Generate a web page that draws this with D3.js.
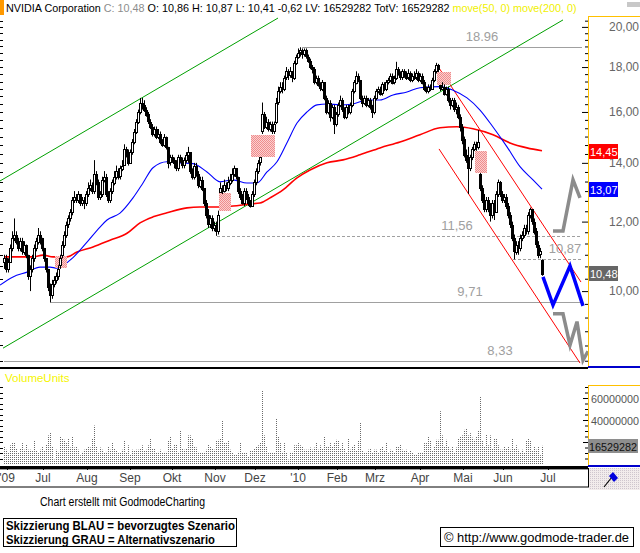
<!DOCTYPE html>
<html>
<head>
<meta charset="utf-8">
<script src="https://cdn.jsdelivr.net/npm/d3@7"></script>
<style>
  body { margin: 0; background: #fff; }
  svg { display: block; font-family: "Liberation Sans", Arial, sans-serif; }
</style>
</head>
<body>
<div id="chart"></div>
<script>
const width = 640;
const height = 553;

// Daily bars, first bar sits on trading day 2 (day 0 = 1 June 2009)
const firstDay = 2;

const closes = [
  10.9, 10.6, 10.8, 11.2, 11.5, 11.6, 11.4, 11.2, 11.4, 11.1,
  11.3, 11.0, 10.4, 10.6, 10.9, 11.2, 11.4, 11.6, 11.5, 11.2,
  10.9, 10.6, 10.1, 9.9, 10.2, 10.3, 10.4, 10.6, 10.9, 11.3,
  11.6, 11.9, 12.1, 12.3, 12.7, 12.8, 12.7, 12.9, 12.6, 12.7,
  12.6, 12.9, 13.1, 13.2, 13.0, 13.6, 13.3, 12.8, 12.9, 13.4,
  13.5, 12.9, 12.7, 13.0, 13.3, 13.5, 13.7, 13.5, 13.8, 13.9,
  14.5, 14.4, 14.0, 14.4, 14.8, 15.2, 15.6, 16.0, 16.4, 16.3,
  16.1, 15.9, 15.6, 15.4, 15.1, 15.3, 15.0, 15.1, 14.8, 14.7,
  15.0, 14.6, 14.0, 14.2, 14.1, 14.0, 13.8, 14.2, 14.1, 13.9,
  14.1, 14.3, 14.4, 13.7, 13.5, 13.9, 13.6, 13.2, 13.4, 13.1,
  12.6, 12.2, 11.9, 12.1, 11.8, 11.9, 11.7, 12.2, 13.1, 13.0,
  13.2, 13.1, 13.3, 13.4, 13.6, 13.8, 13.5, 13.0, 12.8, 12.6,
  13.0, 12.8, 12.6, 12.5, 12.9, 13.3, 13.7, 14.0, 14.2, 15.9,
  15.4, 15.6, 15.3, 15.5, 15.2, 15.5, 16.4, 16.9, 17.1, 17.0,
  17.5, 17.8, 17.6, 17.8, 17.5, 18.2, 18.5, 18.7, 18.8, 18.6,
  18.8, 18.5, 18.3, 18.0, 17.9, 17.3, 17.5, 17.2, 17.0, 17.3,
  16.6, 16.0, 16.4, 15.8, 16.2, 15.5, 15.9, 16.3, 16.5, 16.1,
  15.8, 16.2, 16.0, 16.3, 16.9, 17.3, 17.6, 17.4, 16.6, 16.4,
  16.6, 16.3, 16.5, 16.2, 16.0, 16.6, 16.9, 17.0, 16.8, 17.2,
  17.0, 17.3, 17.4, 17.6, 17.3, 17.5, 17.9, 17.7, 17.5, 17.8,
  17.6, 17.5, 17.7, 17.4, 17.6, 17.5, 17.7, 17.4, 17.6, 17.3,
  17.0, 16.9, 17.1, 17.0, 17.4, 17.8, 18.1, 17.9, 17.0, 17.1,
  16.8, 17.0, 16.5, 16.3, 16.5, 16.1, 16.2, 15.8, 15.4, 14.9,
  14.3, 14.1, 13.8, 14.2, 14.5, 14.7, 14.6, 14.8, 13.1, 12.7,
  12.4, 12.7, 12.5, 12.2, 12.6, 12.3, 12.9, 13.3, 12.9, 12.7,
  12.8, 12.5, 12.2, 11.9, 11.5, 11.1, 11.3, 11.2, 11.5, 11.6,
  11.8, 11.7, 12.2, 12.4, 12.0, 11.7, 11.3, 11.0, 11.1, 10.48
];

const opens = [
  10.8, 10.9, 10.6, 10.8, 11.2, 11.5, 11.6, 11.4, 11.2, 11.4,
  11.1, 11.3, 11.0, 10.4, 10.6, 10.9, 11.2, 11.4, 11.6, 11.5,
  11.2, 10.9, 10.6, 10.1, 9.9, 10.2, 10.3, 10.4, 10.7, 11.0,
  11.3, 11.6, 11.9, 12.1, 12.3, 12.7, 12.8, 12.7, 12.9, 12.6,
  12.7, 12.6, 12.9, 13.1, 13.2, 13.0, 13.6, 13.3, 12.8, 12.9,
  13.4, 13.5, 12.9, 12.7, 13.0, 13.3, 13.5, 13.7, 13.5, 13.8,
  13.9, 14.5, 14.4, 14.0, 14.4, 14.8, 15.2, 15.6, 16.0, 16.4,
  16.3, 16.1, 15.9, 15.6, 15.4, 15.1, 15.3, 15.0, 15.1, 14.8,
  14.7, 15.0, 14.6, 14.0, 14.2, 14.1, 14.0, 13.8, 14.2, 14.1,
  13.9, 14.1, 14.3, 14.4, 13.7, 13.5, 13.9, 13.6, 13.2, 13.4,
  13.1, 12.6, 12.2, 11.9, 12.1, 11.8, 11.9, 11.7, 12.95, 13.1,
  13.0, 13.2, 13.1, 13.3, 13.4, 13.6, 13.8, 13.5, 13.0, 12.8,
  12.6, 13.0, 12.8, 12.6, 12.5, 12.9, 13.3, 13.7, 14.0, 15.2,
  15.9, 15.4, 15.6, 15.3, 15.5, 15.2, 15.6, 16.4, 16.9, 17.1,
  17.0, 17.5, 17.8, 17.6, 17.8, 17.5, 18.2, 18.5, 18.7, 18.8,
  18.6, 18.8, 18.5, 18.3, 18.0, 17.9, 17.3, 17.5, 17.2, 17.0,
  17.3, 16.6, 16.0, 16.4, 15.8, 16.2, 15.5, 15.9, 16.3, 16.5,
  16.1, 15.8, 16.2, 16.0, 16.3, 16.9, 17.3, 17.6, 17.4, 16.6,
  16.4, 16.6, 16.3, 16.5, 16.2, 16.0, 16.6, 16.9, 17.0, 16.8,
  17.2, 17.0, 17.3, 17.4, 17.6, 17.3, 17.5, 17.9, 17.7, 17.5,
  17.8, 17.6, 17.5, 17.7, 17.4, 17.6, 17.5, 17.7, 17.4, 17.6,
  17.3, 17.0, 16.9, 17.1, 17.0, 17.4, 17.8, 18.1, 17.15, 17.0,
  17.1, 16.8, 17.0, 16.5, 16.3, 16.5, 16.1, 16.2, 15.8, 15.4,
  14.9, 14.3, 14.1, 13.8, 14.2, 14.5, 14.7, 14.6, 13.6, 13.1,
  12.7, 12.4, 12.7, 12.5, 12.2, 12.6, 12.3, 12.9, 13.3, 12.9,
  12.7, 12.8, 12.5, 12.2, 11.9, 11.5, 11.1, 11.3, 11.2, 11.5,
  11.6, 11.8, 11.7, 12.2, 12.4, 12.0, 11.7, 11.3, 11.0, 10.86
];

const highs = [
  11.0, 11.0, 10.9, 11.3, 11.7, 12.1, 11.7, 11.5, 11.5, 11.5,
  11.4, 11.3, 11.0, 10.7, 11.0, 11.3, 11.5, 11.8, 11.7, 11.5,
  11.2, 10.9, 10.6, 10.2, 10.3, 10.4, 10.5, 10.7, 11.0, 11.4,
  11.7, 12.0, 12.2, 12.4, 12.8, 13.0, 12.9, 13.0, 12.9, 12.8,
  12.8, 13.0, 13.3, 13.4, 13.3, 14.1, 13.7, 13.4, 13.0, 13.5,
  13.7, 13.6, 13.0, 13.1, 13.4, 13.7, 13.9, 13.8, 13.9, 14.1,
  14.7, 14.6, 14.5, 14.5, 14.9, 15.3, 15.7, 16.1, 16.6, 16.6,
  16.5, 16.2, 16.0, 15.7, 15.5, 15.4, 15.4, 15.3, 15.2, 14.9,
  15.1, 15.0, 14.6, 14.3, 14.3, 14.2, 14.1, 14.3, 14.3, 14.2,
  14.2, 14.4, 14.6, 14.4, 13.8, 14.0, 14.0, 13.7, 13.5, 13.5,
  13.1, 12.7, 12.4, 12.2, 12.2, 12.0, 12.0, 12.35, 13.3, 13.2,
  13.4, 13.3, 13.5, 13.6, 13.8, 13.9, 13.8, 13.5, 13.1, 12.9,
  13.1, 13.1, 12.9, 12.7, 13.0, 13.4, 13.8, 14.1, 14.2, 16.4,
  16.0, 15.8, 15.7, 15.6, 15.6, 15.6, 16.6, 17.1, 17.3, 17.3,
  17.6, 18.0, 17.9, 18.0, 17.8, 18.3, 18.6, 18.9, 18.96, 18.9,
  18.9, 18.9, 18.6, 18.4, 18.1, 18.0, 17.6, 17.6, 17.3, 17.4,
  17.3, 16.7, 16.5, 16.5, 16.3, 16.3, 16.0, 16.4, 16.7, 16.6,
  16.2, 16.3, 16.3, 16.4, 17.0, 17.4, 17.8, 17.7, 17.4, 16.7,
  16.7, 16.7, 16.6, 16.6, 16.3, 16.7, 17.0, 17.1, 17.1, 17.3,
  17.3, 17.4, 17.5, 17.7, 17.7, 17.6, 18.25, 18.0, 17.8, 17.9,
  17.9, 17.8, 17.9, 17.8, 17.7, 17.8, 17.9, 17.8, 17.7, 17.7,
  17.4, 17.1, 17.2, 17.2, 17.5, 17.9, 18.2, 18.15, 17.17, 17.3,
  17.2, 17.1, 17.1, 16.6, 16.6, 16.6, 16.4, 16.3, 15.9, 15.5,
  15.0, 14.5, 14.6, 14.3, 14.6, 14.8, 14.8, 15.26, 13.63, 13.2,
  12.9, 12.8, 12.8, 12.6, 12.7, 12.7, 13.0, 13.4, 13.35, 13.0,
  12.9, 12.9, 12.6, 12.3, 12.0, 11.6, 11.4, 11.4, 11.6, 11.7,
  11.9, 11.9, 12.3, 12.45, 12.4, 12.1, 11.8, 11.4, 11.2, 10.87
];

const lows = [
  10.6, 10.5, 10.5, 10.8, 11.1, 11.4, 11.3, 11.1, 11.1, 11.0,
  11.0, 10.9, 10.3, 10.0, 10.5, 10.8, 11.1, 11.3, 11.3, 11.1,
  10.8, 10.5, 10.0, 9.71, 9.8, 10.1, 10.2, 10.3, 10.6, 10.9,
  11.2, 11.5, 11.8, 12.0, 12.2, 12.6, 12.6, 12.6, 12.5, 12.5,
  12.4, 12.5, 12.8, 13.0, 12.9, 12.9, 13.2, 12.7, 12.7, 12.8,
  13.3, 12.8, 12.6, 12.6, 12.9, 13.2, 13.4, 13.4, 13.4, 13.7,
  13.9, 14.2, 13.9, 14.0, 14.3, 14.7, 15.1, 15.5, 15.9, 16.1,
  16.0, 15.8, 15.5, 15.3, 15.0, 15.0, 14.9, 14.9, 14.7, 14.6,
  14.6, 14.5, 13.8, 13.9, 14.0, 13.8, 13.7, 13.7, 14.0, 13.8,
  13.8, 14.0, 14.0, 13.6, 13.4, 13.4, 13.5, 13.1, 13.1, 13.0,
  12.5, 12.1, 11.8, 11.8, 11.7, 11.7, 11.56, 11.6, 12.95, 12.9,
  12.95, 13.0, 13.0, 13.2, 13.3, 13.5, 13.4, 12.9, 12.7, 12.55,
  12.5, 12.7, 12.5, 12.45, 12.5, 12.8, 13.2, 13.6, 13.9, 15.1,
  15.3, 15.3, 15.2, 15.2, 15.1, 15.1, 15.5, 16.3, 16.8, 16.8,
  16.9, 17.4, 17.4, 17.5, 17.3, 17.4, 18.1, 18.4, 18.5, 18.4,
  18.5, 18.4, 18.2, 17.9, 17.7, 17.2, 17.2, 17.1, 16.9, 16.9,
  16.5, 15.9, 15.9, 15.6, 15.7, 15.1, 15.4, 15.8, 16.2, 16.0,
  15.7, 15.7, 15.9, 15.9, 16.2, 16.8, 17.2, 17.3, 16.5, 16.2,
  16.3, 16.2, 16.2, 16.1, 15.75, 15.9, 16.5, 16.8, 16.7, 16.7,
  16.9, 16.9, 17.2, 17.3, 17.2, 17.2, 17.4, 17.6, 17.4, 17.4,
  17.5, 17.4, 17.4, 17.3, 17.3, 17.4, 17.4, 17.3, 17.3, 17.2,
  16.9, 16.8, 16.8, 16.9, 17.0, 17.3, 17.7, 17.77, 16.9, 17.0,
  16.7, 16.7, 16.4, 16.1, 16.2, 16.0, 15.9, 15.7, 15.2, 14.7,
  14.2, 14.0, 12.9, 13.7, 14.1, 14.44, 14.45, 14.5, 13.0, 12.6,
  12.3, 12.3, 12.3, 12.0, 12.1, 12.05, 12.3, 12.8, 12.8, 12.6,
  12.6, 12.4, 12.1, 11.8, 11.4, 10.87, 11.0, 11.0, 11.1, 11.4,
  11.5, 11.6, 11.6, 12.1, 11.9, 11.6, 11.2, 10.9, 10.9, 10.41
];

// Volume in millions of shares
const volumes = [
  16, 13, 10, 17, 20, 20, 14, 10, 14, 19,
  13, 18, 13, 13, 12, 21, 12, 10, 13, 16,
  12, 18, 26, 29, 16, 4, 13, 11, 25, 23,
  22, 19, 23, 15, 25, 15, 16, 13, 8, 11,
  13, 14, 16, 15, 23, 35, 16, 11, 15, 13,
  10, 11, 16, 13, 20, 14, 12, 10, 10, 13,
  21, 10, 17, 9, 13, 12, 13, 13, 14, 17,
  12, 13, 17, 23, 14, 14, 10, 11, 13, 10,
  11, 11, 21, 25, 14, 18, 18, 11, 30, 14,
  13, 14, 26, 26, 23, 16, 15, 11, 10, 10,
  11, 13, 18, 16, 14, 13, 21, 22, 23, 40,
  20, 19, 21, 13, 10, 9, 9, 11, 20, 10,
  10, 10, 7, 12, 12, 14, 16, 17, 20, 67,
  26, 16, 10, 10, 10, 10, 41, 25, 19, 11,
  19, 10, 4, 11, 11, 17, 17, 19, 17, 16,
  13, 13, 13, 15, 13, 15, 20, 13,
  17, 14, 25, 16, 16, 19, 16, 19, 22, 21,
  14, 19, 14, 10, 23, 13, 16, 18, 12, 21,
  38, 12, 11, 11, 13, 14, 10, 13, 13, 10,
  14, 16, 12, 20, 10, 13, 12, 10, 16, 16,
  18, 13, 12, 13, 10, 12, 10, 9, 9, 10,
  10, 10, 19, 19, 25, 21, 12, 16, 22, 22,
  48, 26, 16, 22, 16, 13, 16, 11, 15, 23,
  25, 26, 31, 32, 26, 28, 24, 22, 25, 30,
  61, 21, 16, 27, 17, 26, 14, 23, 23, 17,
  13, 13, 16, 14, 16, 13, 23, 14, 17, 13,
  10, 13, 10, 21, 23, 21, 12, 16, 13, 16,
  8, 16.53
];

// Moving averages: [day, price]
const ma50 = [
  [0, 10.16], [6.5, 10.38], [13.5, 10.51], [20, 10.65], [25, 10.65], [28.5, 10.62],
  [31.5, 10.7], [36.5, 10.92], [43.5, 11.37], [50, 11.83], [53.5, 12.05], [60, 12.27],
  [66.5, 12.77], [71.5, 13.28], [76.5, 13.82], [83.5, 14.04], [90, 14.0], [96.5, 13.97],
  [103.5, 13.67], [110, 13.32], [116.5, 13.39], [123.5, 13.28], [128.5, 13.28],
  [133.5, 13.67], [138.5, 14.04], [143.5, 14.76], [148.5, 15.54], [153.5, 16.0],
  [158.5, 16.3], [163.5, 16.34], [170, 16.3], [176.5, 16.34], [183.5, 16.51],
  [190, 16.51], [196.5, 16.73], [203.5, 16.86], [210, 17.05], [220, 17.1],
  [226.5, 16.94], [233.5, 16.6], [240, 16.08], [246.5, 15.38], [253.5, 14.6],
  [260, 13.86], [266.5, 13.39], [271, 13.07]
];

const ma200 = [
  [2, 10.94], [16.5, 10.94], [21.5, 10.99], [26.5, 10.94], [33.5, 10.94], [38.5, 11.08],
  [46.5, 11.23], [55, 11.43], [63.5, 11.64], [70, 11.96], [76.5, 12.15], [83.5, 12.28],
  [93.5, 12.44], [100, 12.47], [110, 12.47], [116.5, 12.5], [125, 12.57], [130, 12.6],
  [135, 12.77], [141.5, 13.04], [148.5, 13.46], [155, 13.74], [163.5, 14.0],
  [171.5, 14.11], [180, 14.3], [190, 14.56], [200, 14.79], [210, 15.07], [220, 15.35],
  [228.5, 15.39], [236.5, 15.31], [246.5, 15.07], [255, 14.75], [263.5, 14.56],
  [271, 14.45]
];

const lastValues = [
  { value: 14.45, text: '14,45', color: '#ff0000' },
  { value: 13.07, text: '13,07', color: '#0000ff' },
  { value: 10.48, text: '10,48', color: '#666666' }
];

// Trend channels: [[day, price], [day, price]]
const greenChannel = [
  [[1.5, 8.61], [281.5, 20.37]],
  [[0, 13.35], [139, 20.47]]
];
const redChannel = [
  [[218.5, 18.1], [290.5, 10.24]],
  [[219.5, 14.52], [290, 8.28]]
];

// Horizontal support / resistance marks
const levels = [
  { value: 18.96, text: '18.96', from: 151, to: 291, labelDay: 241, dashed: false },
  { value: 11.56, text: '11,56', from: 108.5, to: 291, labelDay: 228.5, dashed: true },
  { value: 10.87, text: '10,87', from: 256.5, to: 291, labelDay: 282.5, dashed: true },
  { value: 9.71, text: '9,71', from: 25, to: 291, labelDay: 235, dashed: false },
  { value: 8.33, text: '8,33', from: 2, to: 290, labelDay: 250, dashed: false }
];

// Price gaps (pink boxes)
const gaps = [
  { from: 27.5, to: 33.5, lo: 10.62, hi: 10.96 },
  { from: 109.5, to: 115.5, lo: 12.34, hi: 12.94 },
  { from: 125.5, to: 137.5, lo: 14.22, hi: 15.06 },
  { from: 218.5, to: 225.5, lo: 17.17, hi: 17.77 },
  { from: 237.5, to: 243.5, lo: 13.63, hi: 14.44 }
];

// Scenario sketches
const blueScenario = [[271.5, 10.38], [276.5, 9.64], [285, 10.68], [291.5, 9.62]];
const grayScenarioUp = [[276.5, 11.71], [281.5, 11.71], [286.5, 13.39], [290, 12.77]];
const grayScenarioDown = [[276.5, 9.42], [281.5, 9.42], [285, 8.68], [288.5, 9.23], [291.5, 8.34], [294, 8.54]];

const months = [
  { label: "'09", day: 3.5 }, { label: 'Jul', day: 21.5 }, { label: 'Aug', day: 43.5 },
  { label: 'Sep', day: 65 }, { label: 'Okt', day: 86 }, { label: 'Nov', day: 107.5 },
  { label: 'Dez', day: 127.5 }, { label: "'10", day: 149 }, { label: 'Feb', day: 168.5 },
  { label: 'Mrz', day: 187.5 }, { label: 'Apr', day: 210 }, { label: 'Mai', day: 231.5 },
  { label: 'Jun', day: 251.5 }, { label: 'Jul', day: 274 }
];

const priceTicks = [10, 12, 14, 16, 18, 20];
const priceTickLabels = ['10,00', '12,00', '14,00', '16,00', '18,00', '20,00'];
const priceMinorTicks = [
  8.33, 8.67, 9, 9.33, 9.67, 10.33, 10.67, 11, 11.33, 11.67,
  12.33, 12.67, 13, 13.33, 13.67, 14.33, 14.67, 15, 15.33, 15.67,
  16.33, 16.67, 17, 17.33, 17.67, 18.33, 18.67, 19, 19.33, 19.67, 20.33
];
const volumeTicks = [20, 40, 60];
const volumeTickLabels = ['20000000', '40000000', '60000000'];
const volumeMinorTicks = [5, 10, 15, 25, 30, 35, 45, 50, 55, 65, 70];

const headerParts = [
  { text: 'NVIDIA Corporation', color: '#000' },
  { text: 'C: 10,48', color: '#8c8c8c' },
  { text: 'O: 10,86', color: '#000' },
  { text: 'H: 10,87', color: '#000' },
  { text: 'L: 10,41', color: '#000' },
  { text: '-0,62', color: '#000' },
  { text: 'LV: 16529282', color: '#000' },
  { text: 'TotV: 16529282', color: '#000' },
  { text: 'move(50, 0)', color: '#f0f000' },
  { text: 'move(200, 0)', color: '#f0f000' }
];

// ---------------------------------------------------------------------------

const x = d3.scaleLinear().domain([0, 294]).range([0, 588]);
const y = d3.scaleLog().domain([10, 20]).range([291.1, 26.9]);
const yVol = d3.scaleLinear().domain([0, 60]).range([464, 398]);

const px = v => Math.round(v) + 0.5;

const svg = d3.select('#chart').append('svg')
    .attr('width', width)
    .attr('height', height)
    .attr('viewBox', `0 0 ${width} ${height}`);

const defs = svg.append('defs');
defs.append('clipPath').attr('id', 'mainClip')
  .append('rect').attr('x', 0).attr('y', 15).attr('width', 590).attr('height', 352);
// only the upper edge of the 20000000 label peeks out above the last-volume box
defs.append('clipPath').attr('id', 'volLabelClip')
  .append('rect').attr('x', 588).attr('y', 386).attr('width', 52).attr('height', 52);

const gapPattern = defs.append('pattern')
    .attr('id', 'gapFill')
    .attr('width', 2).attr('height', 2)
    .attr('patternUnits', 'userSpaceOnUse');
gapPattern.append('rect').attr('width', 2).attr('height', 2).attr('fill', '#fbd0d0');
gapPattern.append('rect').attr('width', 1).attr('height', 1).attr('fill', '#ef8c8c');
gapPattern.append('rect').attr('x', 1).attr('y', 1).attr('width', 1).attr('height', 1).attr('fill', '#ef8c8c');

const cornerPattern = defs.append('pattern')
    .attr('id', 'cornerFill')
    .attr('width', 2).attr('height', 2)
    .attr('patternUnits', 'userSpaceOnUse');
cornerPattern.append('rect').attr('width', 2).attr('height', 2).attr('fill', '#f2ecec');
cornerPattern.append('rect').attr('width', 1).attr('height', 1).attr('fill', '#cfc6ce');

svg.append('rect').attr('width', width).attr('height', height).attr('fill', '#fff');

// ---- header ----
svg.append('rect').attr('x', 0).attr('y', 0).attr('width', 4).attr('height', 15).attr('fill', '#ff9900');
svg.append('rect').attr('x', 627).attr('y', 2).attr('width', 13).attr('height', 5).attr('fill', '#c8c8c8');

// lay the header pieces out one after the other, then fit them to x 6..577
const headerG = svg.append('g');
const headerTexts = headerG.selectAll('text').data(headerParts).join('text')
    .attr('y', 12)
    .attr('font-size', 11)
    .attr('fill', d => d.color)
    .text(d => d.text);
const gapW = 3;
let natural = 0;
headerTexts.each(function () { natural += this.getComputedTextLength() + gapW; });
natural -= gapW;
const fit = 571 / natural;
headerTexts.attr('font-size', 11 * fit);
let cursor = 6;
headerTexts.each(function () {
  d3.select(this).attr('x', cursor);
  cursor += this.getComputedTextLength() + gapW * fit;
});

// ---- main price panel ----
const main = svg.append('g').attr('clip-path', 'url(#mainClip)');

const line = d3.line().x(d => x(d[0])).y(d => y(d[1]));
const smooth = d3.line().x(d => x(d[0])).y(d => y(d[1])).curve(d3.curveMonotoneX);

main.selectAll('line.level').data(levels).join('line')
    .attr('class', 'level')
    .attr('x1', d => x(d.from)).attr('x2', d => x(d.to))
    .attr('y1', d => px(y(d.value))).attr('y2', d => px(y(d.value)))
    .attr('stroke', '#a0a0a0')
    .attr('stroke-dasharray', d => d.dashed ? '3,2' : null);

main.selectAll('path.green').data(greenChannel).join('path')
    .attr('class', 'green')
    .attr('d', line)
    .attr('fill', 'none')
    .attr('stroke', '#00a000');

main.selectAll('path.redch').data(redChannel).join('path')
    .attr('class', 'redch')
    .attr('d', line)
    .attr('fill', 'none')
    .attr('stroke', '#ff0000');

main.append('path')
    .attr('d', smooth(ma200))
    .attr('fill', 'none')
    .attr('stroke', '#ff0000')
    .attr('stroke-width', 1.6);

main.append('path')
    .attr('d', smooth(ma50))
    .attr('fill', 'none')
    .attr('stroke', '#0000ff')
    .attr('stroke-width', 1.1);

main.selectAll('rect.gap').data(gaps).join('rect')
    .attr('class', 'gap')
    .attr('x', d => Math.round(x(d.from)))
    .attr('width', d => Math.round(x(d.to) - x(d.from)))
    .attr('y', d => Math.round(y(d.hi)))
    .attr('height', d => Math.round(y(d.lo) - y(d.hi)))
    .attr('fill', 'url(#gapFill)');

const bars = closes.map((c, k) => ({
  day: firstDay + k, o: opens[k], h: highs[k], l: lows[k], c: c
}));

main.selectAll('line.wick').data(bars).join('line')
    .attr('class', 'wick')
    .attr('x1', d => px(x(d.day))).attr('x2', d => px(x(d.day)))
    .attr('y1', d => y(d.h)).attr('y2', d => y(d.l))
    .attr('stroke', '#000');

main.selectAll('rect.body').data(bars).join('rect')
    .attr('class', 'body')
    .attr('x', d => px(x(d.day)) - 1)
    .attr('width', 2)
    .attr('y', d => Math.round(y(Math.max(d.o, d.c))) + 0.5)
    .attr('height', d => Math.max(1, Math.round(y(Math.min(d.o, d.c)) - y(Math.max(d.o, d.c)))))
    .attr('fill', d => d.c >= d.o ? '#fff' : '#000')
    .attr('stroke', '#000');

main.selectAll('text.level').data(levels).join('text')
    .attr('class', 'level')
    .attr('x', d => x(d.labelDay))
    .attr('y', d => y(d.value) - 6)
    .attr('text-anchor', 'middle')
    .attr('font-size', 13)
    .attr('fill', '#a0a0a0')
    .text(d => d.text);

main.append('path')
    .attr('d', line(grayScenarioUp))
    .attr('fill', 'none').attr('stroke', '#8c8c8c').attr('stroke-width', 3.5);
main.append('path')
    .attr('d', line(grayScenarioDown))
    .attr('fill', 'none').attr('stroke', '#8c8c8c').attr('stroke-width', 3.5);
main.append('path')
    .attr('d', line(blueScenario))
    .attr('fill', 'none').attr('stroke', '#0000ff').attr('stroke-width', 3.5);

// left ticks of the price panel
svg.selectAll('line.lt').data(priceTicks.concat(priceMinorTicks)).join('line')
    .attr('class', 'lt')
    .attr('x1', 0).attr('x2', 3)
    .attr('y1', d => px(y(d))).attr('y2', d => px(y(d)))
    .attr('stroke', '#000');

// ---- right price axis panel ----
const axisPanel = svg.append('g');
axisPanel.append('rect').attr('x', 589).attr('y', 17).attr('width', 51).attr('height', 349).attr('fill', '#fff');
axisPanel.append('line').attr('x1', 588.5).attr('x2', 588.5).attr('y1', 16).attr('y2', 367).attr('stroke', '#ffc000');
axisPanel.append('line').attr('x1', 588).attr('x2', 640).attr('y1', 16.5).attr('y2', 16.5).attr('stroke', '#ffc000');

axisPanel.append('g')
    .attr('transform', 'translate(588,0)')
    .call(d3.axisLeft(y).tickValues(priceMinorTicks).tickSize(3).tickFormat(''))
    .call(g => g.select('.domain').remove())
    .call(g => g.selectAll('line').attr('stroke', '#000'));

axisPanel.append('g')
    .attr('transform', 'translate(588,0)')
    .call(d3.axisLeft(y).tickValues(priceTicks).tickSize(6).tickFormat(''))
    .call(g => g.select('.domain').remove())
    .call(g => g.selectAll('line').attr('stroke', '#000'));

axisPanel.selectAll('text.pl').data(priceTicks).join('text')
    .attr('class', 'pl')
    .attr('x', 639)
    .attr('y', d => y(d) + 4)
    .attr('text-anchor', 'end')
    .attr('font-size', 12)
    .attr('fill', '#666')
    .text((d, i) => priceTickLabels[i]);

const tags = axisPanel.selectAll('g.tag').data(lastValues).join('g').attr('class', 'tag');
tags.append('rect')
    .attr('x', 589).attr('width', 29)
    .attr('y', d => Math.round(y(d.value)) - 7).attr('height', 15)
    .attr('fill', d => d.color);
tags.append('text')
    .attr('x', 590)
    .attr('y', d => Math.round(y(d.value)) + 4.5)
    .attr('font-size', 11)
    .attr('fill', '#fff')
    .text(d => d.text);

axisPanel.append('rect').attr('x', 588).attr('y', 366).attr('width', 52).attr('height', 2).attr('fill', '#0000cc');

// separator between panels
svg.append('rect').attr('x', 0).attr('y', 367).attr('width', 588).attr('height', 2).attr('fill', '#000');

// ---- volume panel ----
svg.append('text')
    .attr('x', 5).attr('y', 382)
    .attr('font-size', 11.5)
    .attr('fill', '#f5f500')
    .text('VolumeUnits');

svg.selectAll('line.vol').data(volumes).join('line')
    .attr('class', 'vol')
    .attr('x1', (d, k) => px(x(firstDay + k))).attr('x2', (d, k) => px(x(firstDay + k)))
    .attr('y1', yVol(0)).attr('y2', d => yVol(d))
    .attr('stroke', '#6a6a6a')
    .attr('stroke-dasharray', '1,1');

svg.selectAll('line.vlt').data(volumeTicks.concat(volumeMinorTicks)).join('line')
    .attr('class', 'vlt')
    .attr('x1', 0).attr('x2', 3)
    .attr('y1', d => px(yVol(d))).attr('y2', d => px(yVol(d)))
    .attr('stroke', '#000');

const volPanel = svg.append('g');
volPanel.append('line').attr('x1', 588.5).attr('x2', 588.5).attr('y1', 385).attr('y2', 466).attr('stroke', '#ffc000');
volPanel.append('line').attr('x1', 588).attr('x2', 640).attr('y1', 385.5).attr('y2', 385.5).attr('stroke', '#ffc000');

volPanel.append('g')
    .attr('transform', 'translate(588,0)')
    .call(d3.axisLeft(yVol).tickValues(volumeMinorTicks).tickSize(3).tickFormat(''))
    .call(g => g.select('.domain').remove())
    .call(g => g.selectAll('line').attr('stroke', '#000'));
volPanel.append('g')
    .attr('transform', 'translate(588,0)')
    .call(d3.axisLeft(yVol).tickValues(volumeTicks).tickSize(5).tickFormat(''))
    .call(g => g.select('.domain').remove())
    .call(g => g.selectAll('line').attr('stroke', '#000'));

volPanel.append('g')
    .attr('clip-path', 'url(#volLabelClip)')
  .selectAll('text.vl').data(volumeTicks).join('text')
    .attr('class', 'vl')
    .attr('x', 591)
    .attr('y', d => yVol(d) + 4.5)
    .attr('font-size', 11)
    .attr('textLength', 48)
    .attr('lengthAdjust', 'spacingAndGlyphs')
    .attr('fill', '#555')
    .text((d, i) => volumeTickLabels[i]);

const lastVol = volumes[volumes.length - 1];
volPanel.append('rect')
    .attr('x', 588).attr('width', 50)
    .attr('y', Math.round(yVol(lastVol)) - 7).attr('height', 14)
    .attr('fill', '#8e8e8e');
volPanel.append('text')
    .attr('x', 589)
    .attr('y', Math.round(yVol(lastVol)) + 4.5)
    .attr('font-size', 11)
    .attr('textLength', 48)
    .attr('lengthAdjust', 'spacingAndGlyphs')
    .attr('fill', '#111')
    .text('16529282');

volPanel.append('rect').attr('x', 588).attr('y', 465).attr('width', 52).attr('height', 2).attr('fill', '#0000cc');

// ---- date axis ----
svg.append('rect').attr('x', 0).attr('y', 466).attr('width', 588).attr('height', 2).attr('fill', '#000');
svg.append('rect')
    .attr('x', -1).attr('y', 468.5).attr('width', 589.5).attr('height', 18.5)
    .attr('fill', '#fff').attr('stroke', '#000');
svg.append('line').attr('x1', 0).attr('x2', 588).attr('y1', 469.5).attr('y2', 469.5).attr('stroke', '#999');

svg.selectAll('line.mt').data(months).join('line')
    .attr('class', 'mt')
    .attr('x1', d => px(x(d.day))).attr('x2', d => px(x(d.day)))
    .attr('y1', 468).attr('y2', 470)
    .attr('stroke', '#000');

svg.selectAll('text.month').data(months).join('text')
    .attr('class', 'month')
    .attr('x', d => x(d.day))
    .attr('y', 482)
    .attr('text-anchor', 'middle')
    .attr('font-size', 12)
    .attr('fill', '#444')
    .text(d => d.label);

svg.append('rect').attr('x', 589).attr('y', 468).attr('width', 51).attr('height', 22).attr('fill', 'url(#cornerFill)');
svg.append('line').attr('x1', 604).attr('y1', 487).attr('x2', 612).attr('y2', 477).attr('stroke', '#000').attr('stroke-width', 1.2);
svg.append('path').attr('d', 'M609,476 L613,472 L618,478 L614,482 Z').attr('fill', '#0000dd');

// ---- footer ----
svg.append('text')
    .attr('x', 40).attr('y', 506)
    .attr('font-size', 12)
    .attr('textLength', 165)
    .attr('lengthAdjust', 'spacingAndGlyphs')
    .text('Chart erstellt mit GodmodeCharting');

svg.append('rect')
    .attr('x', 3.5).attr('y', 518.5).attr('width', 233).attr('height', 28)
    .attr('fill', '#fff').attr('stroke', '#000');
svg.append('text')
    .attr('x', 6).attr('y', 530)
    .attr('font-size', 12).attr('font-weight', 'bold')
    .attr('textLength', 229).attr('lengthAdjust', 'spacingAndGlyphs')
    .text('Skizzierung BLAU = bevorzugtes Szenario');
svg.append('text')
    .attr('x', 6).attr('y', 544)
    .attr('font-size', 12).attr('font-weight', 'bold')
    .attr('textLength', 209).attr('lengthAdjust', 'spacingAndGlyphs')
    .text('Skizzierung GRAU = Alternativszenario');

svg.append('rect')
    .attr('x', 440.5).attr('y', 527.5).attr('width', 193).attr('height', 19)
    .attr('fill', '#fff').attr('stroke', '#000');
svg.append('text')
    .attr('x', 444).attr('y', 542)
    .attr('font-size', 12)
    .attr('textLength', 185).attr('lengthAdjust', 'spacingAndGlyphs')
    .text('\u00a9 http://www.godmode-trader.de');
</script>
</body>
</html>
